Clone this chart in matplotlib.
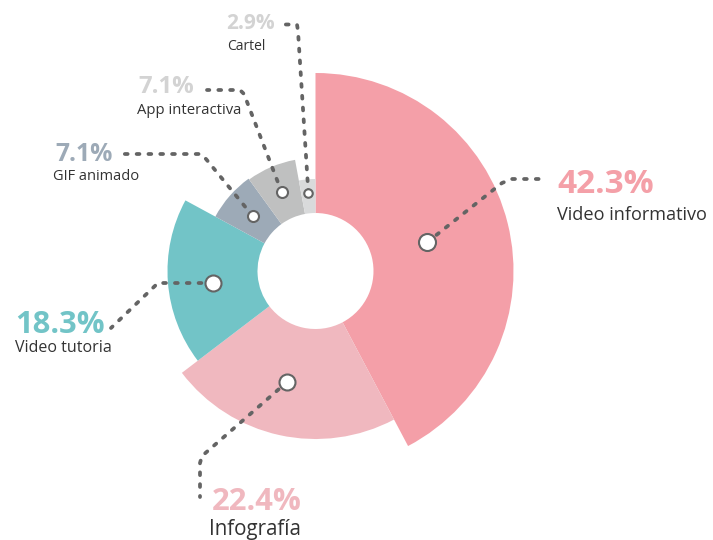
import matplotlib
matplotlib.use('Agg')
import matplotlib.pyplot as plt
from matplotlib.patches import Wedge
import numpy as np

# ---------------- data ----------------
categories = ['Video informativo', 'Infografía', 'Video tutoria',
              'GIF animado', 'App interactiva', 'Cartel']
values = [42.3, 22.4, 18.3, 7.1, 7.1, 2.9]
pct_labels = ['42.3%', '22.4%', '18.3%', '7.1%', '7.1%', '2.9%']

# ---------------- style / layout ----------------
W, H = 713, 540
slice_colors = ['#F49FA8', '#F0B8BF', '#72C4C7', '#9DAAB7', '#BFC0C0', '#D9DADB']
pct_colors = ['#F4A0A8', '#F0B8BF', '#72C4C7', '#9DAAB7', '#D3D3D3', '#D3D3D3']
outer_r = [198, 168, 148, 114, 113, 92]
inner_r = 58
center = (315.5, 271)
mark_frac = [0.41, 0.51, 0.5, 0.46, 0.5, 0.6]
mark_angle_off = [0.5, -1.8, 2.3, 0, 0, 0]
mark_diam = [19, 18, 18, 13, 13, 10.5]
leader_pts = [
    [(502, 183), (512, 179), (546, 179)],
    [(202, 456), (200, 463), (200, 497)],
    [(158, 283), (111, 328)],
    [(206, 159), (200, 154), (124, 154)],
    [(244, 94), (240, 90), (207, 90)],
    [(298, 31), (297, 24.5), (283, 24.5)],
]
pct_pos = [(557, 193.3), (212, 510), (15, 332.7), (55, 161), (138, 93), (226, 29.3)]
pct_size = [24, 22.3, 22.2, 17.8, 17.2, 15]
cat_pos = [(557, 220), (209, 535), (15, 351.7), (53, 180), (137, 113.5), (227, 50)]
cat_size = [13.1, 14.8, 11.5, 10.5, 10.7, 10]

plt.rcParams['font.family'] = ['Open Sans', 'DejaVu Sans']

fig = plt.figure(figsize=(W / 100, H / 100), dpi=100)
ax = fig.add_axes([0, 0, 1, 1])
ax.set_xlim(0, W)
ax.set_ylim(H, 0)
ax.set_aspect('equal')
ax.axis('off')

total = sum(values)
start = 90.0
cx, cy = center
for i, v in enumerate(values):
    sweep = 360.0 * v / total
    a_start = start
    a_end = start - sweep
    # y axis is inverted -> negate visual angles
    w = Wedge(center, outer_r[i], -a_start, -a_end, width=outer_r[i] - inner_r,
              facecolor=slice_colors[i], edgecolor='none', zorder=1)
    ax.add_patch(w)
    mid = (a_start + a_end) / 2 + mark_angle_off[i]
    rm = inner_r + mark_frac[i] * (outer_r[i] - inner_r)
    mx = cx + rm * np.cos(np.radians(mid))
    my = cy - rm * np.sin(np.radians(mid))
    xs = [mx] + [p[0] for p in leader_pts[i]]
    ys = [my] + [p[1] for p in leader_pts[i]]
    ax.plot(xs, ys, color='#646464', lw=2.7, linestyle=(0, (0.75, 2.4)),
            dash_capstyle='round', solid_joinstyle='round', zorder=2)
    d = (mark_diam[i] - 2) * 0.72
    ax.scatter([mx], [my], s=d ** 2, facecolor='white', edgecolor='#646464',
               linewidths=1.5, zorder=3)
    ax.text(pct_pos[i][0], pct_pos[i][1], pct_labels[i], color=pct_colors[i],
            fontsize=pct_size[i], fontweight='bold', ha='left', va='baseline')
    ax.text(cat_pos[i][0], cat_pos[i][1], categories[i], color='#333333',
            fontsize=cat_size[i], ha='left', va='baseline')
    start = a_end

fig.savefig('out.png', dpi=100)
